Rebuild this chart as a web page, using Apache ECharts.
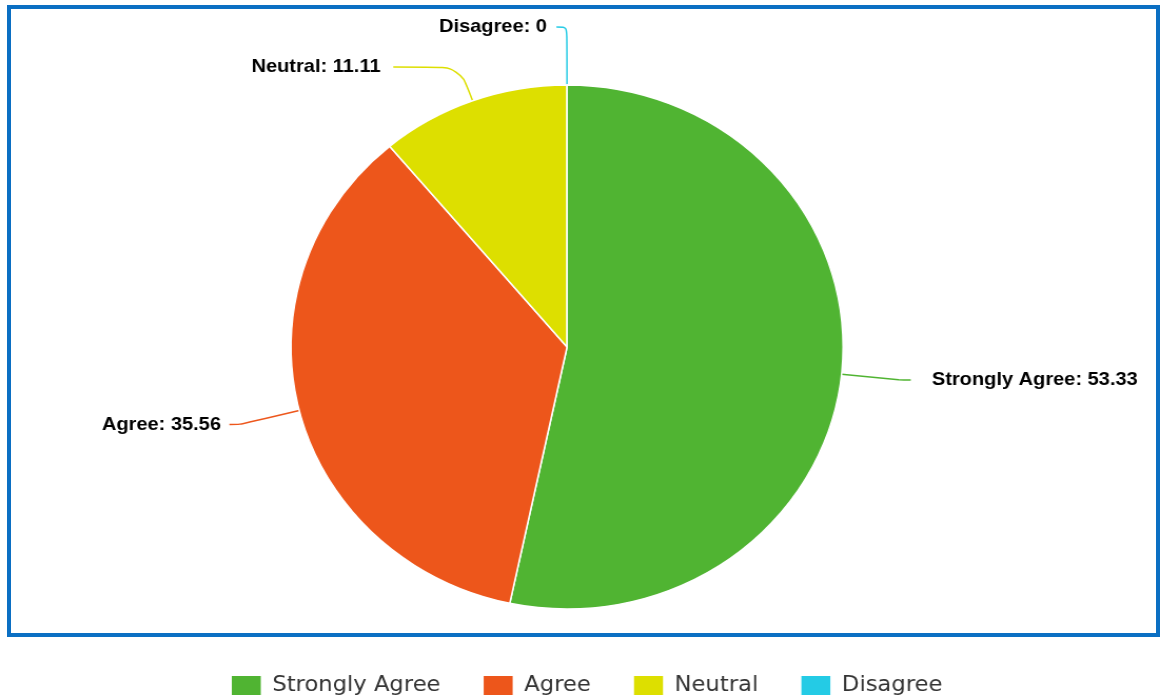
<!DOCTYPE html>
<html>
<head>
<meta charset="utf-8">
<script src="https://cdn.jsdelivr.net/npm/echarts@6/dist/echarts.min.js"></script>
<style>
html,body{margin:0;padding:0;width:1160px;height:698px;overflow:hidden;background:#fff;}
#chart{position:absolute;left:0;top:0;width:1101px;height:698px;transform:scaleX(1.05359);transform-origin:0 0;}
#frame{position:absolute;left:7px;top:5px;width:1153px;height:632px;box-sizing:border-box;border:4px solid #0b6fc3;pointer-events:none;}
</style>
</head>
<body>
<div id="chart"></div>
<div id="frame"></div>
<script>
const categories = ['Strongly Agree', 'Agree', 'Neutral', 'Disagree'];
const values = [53.33, 35.56, 11.11, 0];
const colors = ['#50B432', '#ED561B', '#DDDF00', '#24CBE5'];
// label connector styling per slice
const connectorLength = [55, 58, 36, 58];
const connectorLength2 = [11, 10, 63, 10];
const labelGap = [20, 8, 12, 9];

const chart = echarts.init(document.getElementById('chart'), null, {renderer: 'canvas'});

const data = categories.map((name, i) => ({
  name: name,
  value: values[i],
  itemStyle: {color: colors[i]},
  label: {distanceToLabelLine: labelGap[i]},
  labelLine: {length: connectorLength[i], length2: connectorLength2[i], lineStyle: {color: colors[i]}}
}));

chart.setOption({
  animation: false,
  legend: {
    data: categories,
    left: 218,
    top: 674,
    padding: 0,
    icon: 'rect',
    itemWidth: 29.5,
    itemHeight: 21,
    itemGap: 39,
    textStyle: {
      fontFamily: 'DejaVu Sans',
      fontSize: 21.5,
      lineHeight: 22,
      color: '#333',
      padding: [0, 0, 0, 5]
    }
  },
  series: [{
    type: 'pie',
    center: [538.2, 347],
    radius: 262,
    startAngle: 90.01,
    clockwise: true,
    avoidLabelOverlap: false,
    itemStyle: {borderColor: '#fff', borderWidth: 1.5},
    label: {
      show: true,
      formatter: '{b}: {c}',
      fontFamily: 'Liberation Sans',
      fontWeight: 'bold',
      fontSize: 19,
      color: '#000'
    },
    labelLine: {show: true, smooth: 0.3, lineStyle: {width: 1.5}},
    emphasis: {disabled: true},
    data: data
  }]
});
</script>
</body>
</html>
